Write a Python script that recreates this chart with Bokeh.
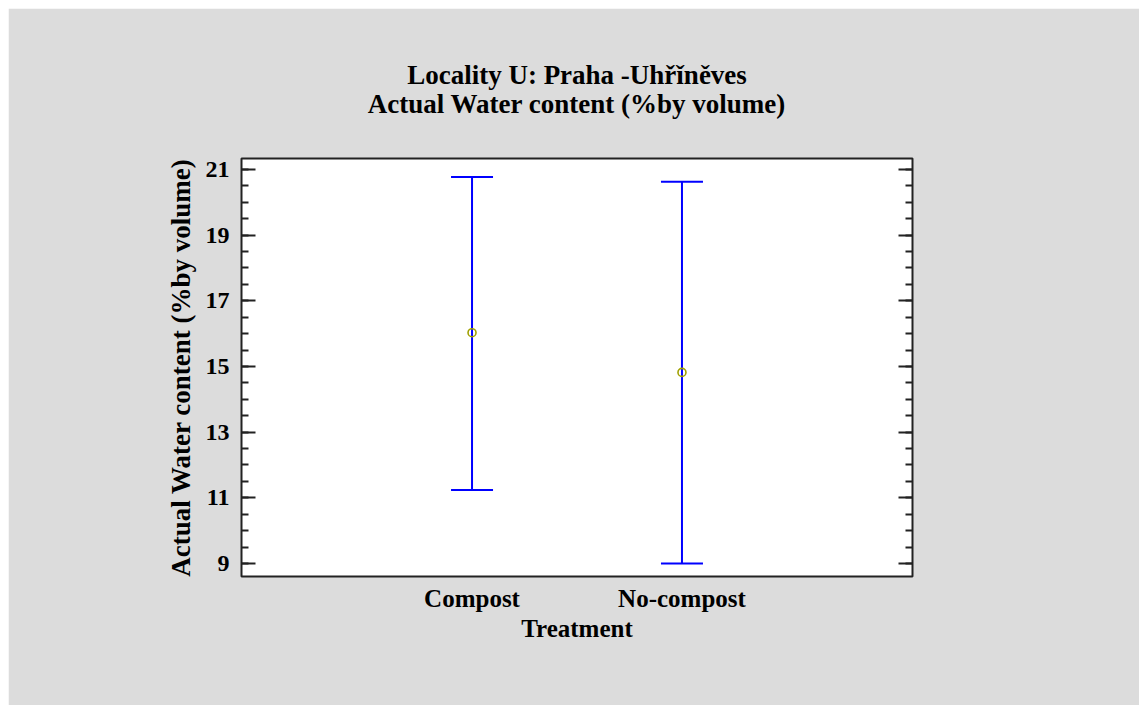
from bokeh.plotting import figure
from bokeh.models import (Range1d, FixedTicker, LinearAxis, Title, Whisker, TeeHead,
                          ColumnDataSource)
from bokeh.embed import file_html
from bokeh.resources import INLINE

# ---- data ----
categories = ["Compost", "No-compost"]
cat_pos = [1, 2]
means = [16.03, 14.82]
upper = [20.77, 20.63]
lower = [11.24, 9.00]
y_ticks = [9, 11, 13, 15, 17, 19, 21]
title_lines = ["Locality U: Praha -Uhřǐněves", "Actual Water content (%by volume)"]
x_title = "Treatment"
y_title = "Actual Water content (%by volume)"

FONT = "Liberation Serif"
FS = "25px"
FS_BIG = "27px"
BG = "#dcdcdc"

W, H = 1131, 697
p = figure(width=W, height=H, output_backend="svg", toolbar_location=None,
           x_range=Range1d(-0.098, 3.098), y_range=Range1d(8.604, 21.335),
           min_border_left=233, min_border_right=227, min_border_top=150,
           min_border_bottom=129, x_axis_location=None, y_axis_location=None)
p.margin = (8, 8, 8, 8)
p.background_fill_color = "white"
p.border_fill_color = BG
p.outline_line_color = "#222222"
p.outline_line_width = 2
p.xgrid.visible = False
p.ygrid.visible = False

src = ColumnDataSource(dict(x=cat_pos, m=means, u=upper, l=lower))

# error bars
w = Whisker(source=src, base="x", upper="u", lower="l", dimension="height",
            line_color="#0000ff", line_width=2,
            upper_head=TeeHead(size=42, line_color="#0000ff", line_width=2),
            lower_head=TeeHead(size=42, line_color="#0000ff", line_width=2))
p.add_layout(w)
p.scatter("x", "m", source=src, marker="circle", size=8, fill_color=None,
          line_color="#a0a000", line_width=1.6)

def style_y(ax, labels=True):
    ax.ticker = FixedTicker(ticks=y_ticks, minor_ticks=[v / 2 for v in range(17, 43)])
    ax.major_tick_in = 14
    ax.major_tick_out = 0
    ax.minor_tick_in = 7
    ax.minor_tick_out = 0
    ax.major_tick_line_color = "#222222"
    ax.minor_tick_line_color = "#222222"
    ax.major_tick_line_width = 2
    ax.minor_tick_line_width = 2
    ax.axis_line_color = None
    ax.major_label_text_font = FONT
    ax.major_label_text_font_style = "bold"
    ax.major_label_text_font_size = "24px"
    ax.major_label_text_color = "black"
    ax.major_label_standoff = 12
    if not labels:
        ax.major_label_overrides = {t: "" for t in y_ticks}

yl = LinearAxis(axis_label=y_title)
style_y(yl)
yl.axis_label_text_font = FONT
yl.axis_label_text_font_style = "bold"
yl.axis_label_text_font_size = FS_BIG
yl.axis_label_text_color = "black"
yl.axis_label_standoff = 7
p.add_layout(yl, "left")

yr = LinearAxis()
style_y(yr, labels=False)
p.add_layout(yr, "right")

xb = LinearAxis(axis_label=x_title)
xb.ticker = FixedTicker(ticks=cat_pos, minor_ticks=[])
xb.major_label_overrides = {c: t for c, t in zip(cat_pos, categories)}
xb.major_tick_in = 0
xb.major_tick_out = 0
xb.minor_tick_in = 0
xb.minor_tick_out = 0
xb.axis_line_color = None
xb.major_label_text_font = FONT
xb.major_label_text_font_style = "bold"
xb.major_label_text_font_size = FS
xb.major_label_text_color = "black"
xb.major_label_standoff = 8
xb.axis_label_text_font = FONT
xb.axis_label_text_font_style = "bold"
xb.axis_label_text_font_size = FS
xb.axis_label_text_color = "black"
xb.axis_label_standoff = 0
p.add_layout(xb, "below")

# second title line: label of a tick-less axis above the frame
xa = LinearAxis(axis_label=title_lines[1])
xa.ticker = FixedTicker(ticks=[], minor_ticks=[])
xa.major_tick_in = 0
xa.major_tick_out = 0
xa.minor_tick_in = 0
xa.minor_tick_out = 0
xa.axis_line_color = None
xa.axis_label_text_font = FONT
xa.axis_label_text_font_style = "bold"
xa.axis_label_text_font_size = FS_BIG
xa.axis_label_text_color = "black"
xa.axis_label_standoff = 40
p.add_layout(xa, "above")

# first title line, outside the axis above
p.add_layout(Title(text=title_lines[0], align="center", text_font=FONT,
                   text_font_style="bold", text_font_size=FS_BIG, text_color="black",
                   standoff=-8), "above")

open("out.html", "w").write(file_html(p, INLINE))
